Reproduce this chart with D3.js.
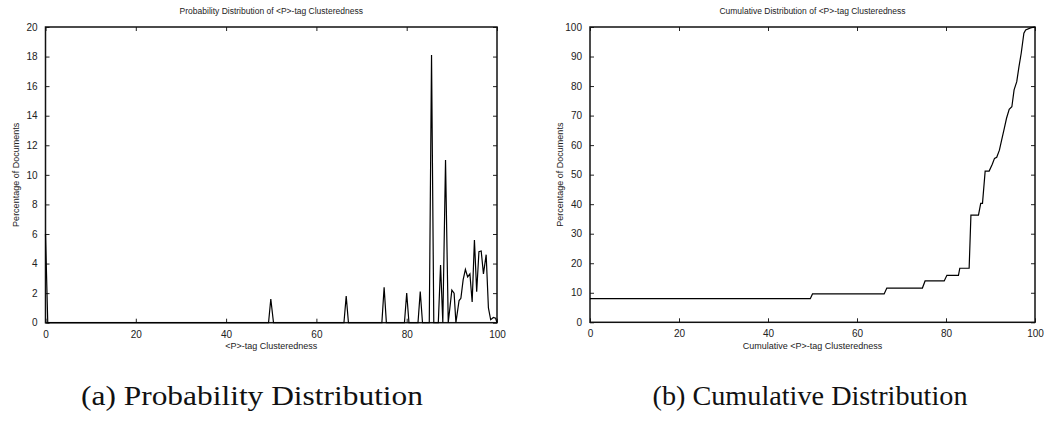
<!DOCTYPE html>
<html>
<head>
<meta charset="utf-8">
<script src="https://cdn.jsdelivr.net/npm/d3@7"></script>
<style>
  body { margin: 0; background: #fff; }
  svg text { font-family: "Liberation Sans", Arial, sans-serif; fill: #222; }
  .cap { font-family: "Liberation Serif", "DejaVu Serif", serif; fill: #111; }
</style>
</head>
<body>
<svg width="1044" height="426"></svg>
<script>
// (a) probability distribution: clusteredness (%) vs percentage of documents
const probX = [0, 0.5, 49.4, 49.9, 50.5, 66.1, 66.6, 67.1, 74.5, 75.0, 75.5, 79.5, 80.0, 80.5,
  82.5, 83.0, 83.5, 85.0, 85.5, 86.0, 87.0, 87.5, 88.0, 88.6, 89.2, 90.0, 90.5, 90.9,
  91.6, 92.0, 92.5, 93.0, 93.5, 94.0, 94.5, 95.0, 95.5, 96.0, 96.5, 97.0, 97.6, 98.1,
  98.6, 99.2, 99.7, 100];
const probY = [6.0, 0, 0, 1.6, 0, 0, 1.8, 0, 0, 2.4, 0, 0, 2.0, 0,
  0, 2.1, 0, 0, 18.1, 0, 0, 3.9, 0, 11.0, 0, 2.2, 2.0, 0,
  1.5, 1.65, 2.9, 3.6, 3.1, 3.3, 1.4, 5.6, 2.1, 4.8, 4.85, 3.3, 4.6, 1.0,
  0.2, 0.35, 0.3, 0];

// (b) cumulative distribution
const cumX = [0, 49.5, 50.0, 66.1, 66.7, 74.7, 75.3, 79.6, 80.2, 82.8, 83.1, 85.2, 85.6,
  87.3, 87.8, 88.2, 88.8, 89.7, 90.4, 90.9, 91.4, 92.0, 92.5, 93.1, 93.6, 94.2, 94.8,
  95.3, 95.9, 96.4, 96.9, 97.5, 97.9, 99.0, 100];
const cumY = [8.0, 8.0, 9.6, 9.6, 11.6, 11.6, 14.0, 14.0, 15.9, 15.9, 18.3, 18.3, 36.3,
  36.3, 40.3, 40.3, 51.2, 51.2, 53.5, 55.5, 55.9, 58.3, 61.7, 65.7, 69.1, 72.1, 73.0,
  78.7, 81.5, 86.6, 91.1, 97.9, 99.0, 99.7, 100];

const xTicks = [0, 20, 40, 60, 80, 100];
const probTicks = [0, 2, 4, 6, 8, 10, 12, 14, 16, 18, 20];
const cumTicks = [0, 10, 20, 30, 40, 50, 60, 70, 80, 90, 100];

const svg = d3.select("svg");

function panel(opt) {
  const x = d3.scaleLinear().domain([0, 100]).range([opt.left, opt.right]);
  const y = d3.scaleLinear().domain([0, opt.ymax]).range([opt.bottom, opt.top]);
  const g = svg.append("g");

  // inward ticks on all four sides, gnuplot style
  const tk = 4;
  g.append("g").attr("transform", `translate(0,${opt.bottom})`)
    .call(d3.axisBottom(x).tickValues(xTicks).tickSizeInner(-tk).tickSizeOuter(0).tickPadding(8));
  g.append("g").attr("transform", `translate(0,${opt.top})`)
    .call(d3.axisTop(x).tickValues(xTicks).tickSizeInner(-tk).tickSizeOuter(0).tickFormat(""));
  g.append("g").attr("transform", `translate(${opt.left},0)`)
    .call(d3.axisLeft(y).tickValues(opt.ticks).tickSizeInner(-tk).tickSizeOuter(0).tickPadding(8));
  g.append("g").attr("transform", `translate(${opt.right},0)`)
    .call(d3.axisRight(y).tickValues(opt.ticks).tickSizeInner(-tk).tickSizeOuter(0).tickFormat(""));
  g.selectAll(".domain").remove();
  g.selectAll(".tick line").attr("stroke", "#222");
  g.selectAll(".tick text").attr("font-size", 10).attr("fill", "#222")
    .attr("font-family", "Liberation Sans, Arial, sans-serif");

  g.append("rect")
    .attr("x", opt.left).attr("y", opt.top)
    .attr("width", opt.right - opt.left).attr("height", opt.bottom - opt.top)
    .attr("fill", "none").attr("stroke", "#111").attr("stroke-width", 1.5);

  const pts = opt.xs.map((v, i) => [v, opt.ys[i]]);
  g.append("path")
    .datum(pts)
    .attr("fill", "none").attr("stroke", "#000").attr("stroke-width", 1.2)
    .attr("d", d3.line().x(d => x(d[0])).y(d => y(d[1])));

  const cx = (opt.left + opt.right) / 2;
  g.append("text").attr("x", cx).attr("y", 14).attr("text-anchor", "middle")
    .attr("font-size", 8.5).text(opt.title);
  g.append("text").attr("x", cx).attr("y", 349).attr("text-anchor", "middle")
    .attr("font-size", 9).text(opt.xlabel);
  g.append("text")
    .attr("transform", `translate(${opt.left - 27},${(opt.top + opt.bottom) / 2}) rotate(-90)`)
    .attr("text-anchor", "middle").attr("font-size", 9).text("Percentage of Documents");
  g.append("text").attr("class", "cap").attr("x", opt.capX).attr("y", 405)
    .attr("text-anchor", "middle").attr("font-size", 27)
    .attr("textLength", opt.capW).attr("lengthAdjust", "spacingAndGlyphs")
    .text(opt.caption);
}

panel({
  left: 45.5, right: 497, top: 27, bottom: 322.7, ymax: 20, ticks: probTicks,
  xs: probX, ys: probY,
  title: "Probability Distribution of <P>-tag Clusteredness",
  xlabel: "<P>-tag Clusteredness",
  caption: "(a) Probability Distribution", capX: 252, capW: 342
});
panel({
  left: 590, right: 1035, top: 27, bottom: 322.3, ymax: 100, ticks: cumTicks,
  xs: cumX, ys: cumY,
  title: "Cumulative Distribution of <P>-tag Clusteredness",
  xlabel: "Cumulative <P>-tag Clusteredness",
  caption: "(b) Cumulative Distribution", capX: 810, capW: 315
});
</script>
</body>
</html>
